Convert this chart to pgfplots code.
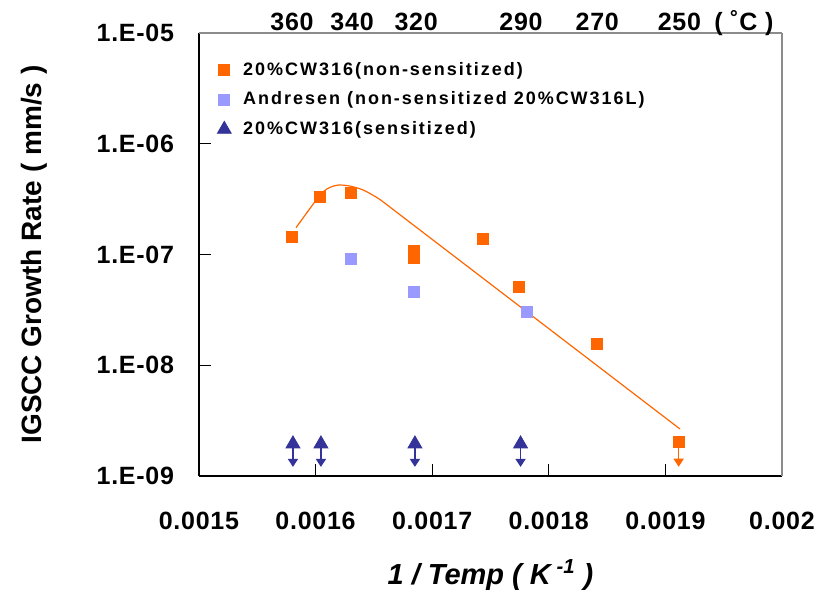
\documentclass[border=0pt]{standalone}
\usepackage{pgfplots}
\pgfplotsset{compat=1.18}
\usepackage{fontspec}
\setmainfont{Liberation Sans}
\usetikzlibrary{arrows.meta}

\definecolor{cworange}{HTML}{FF6600}
\definecolor{andlav}{HTML}{9999FF}
\definecolor{sensblue}{HTML}{333399}

% down arrow drawn under a triangle / under a square
\pgfdeclareplotmark{triarrow}{%
  \pgfsetlinewidth{0.75pt}%
  \pgfsetarrowsend{Triangle[width=5pt,length=4pt]}%
  \pgfpathmoveto{\pgfqpoint{0pt}{-2pt}}%
  \pgfpathlineto{\pgfqpoint{0pt}{-11.5pt}}%
  \pgfusepath{stroke}}
\pgfdeclareplotmark{sqarrow}{%
  \pgfsetlinewidth{0.75pt}%
  \pgfsetarrowsend{Triangle[width=5pt,length=4pt]}%
  \pgfpathmoveto{\pgfqpoint{0pt}{-2.75pt}}%
  \pgfpathlineto{\pgfqpoint{0pt}{-12.5pt}}%
  \pgfusepath{stroke}}

\newcommand{\tickfont}{\bfseries\fontsize{12.5}{14}\selectfont\addfontfeatures{LetterSpace=3}}

\begin{document}
\begin{tikzpicture}
\begin{axis}[
  scale only axis, width=291.5pt, height=221.5pt,
  xmin=0.0015, xmax=0.002, ymin=1e-9, ymax=1e-5, ymode=log,
  scaled x ticks=false,
  axis x line*=bottom, axis y line*=left,
  axis line style={black, line width=1pt},
  tick align=inside, major tick length=6pt,
  tick style={black, line width=0.6pt},
  yminorticks=false,
  xtick={0.0015,0.0016,0.0017,0.0018,0.0019,0.002},
  xticklabels={0.0015,0.0016,0.0017,0.0018,0.0019,0.002},
  ytick={1e-9,1e-8,1e-7,1e-6,1e-5},
  yticklabels={1.E-09,1.E-08,1.E-07,1.E-06,1.E-05},
  ticklabel style={font=\tickfont},
  xticklabel style={anchor=base, yshift=-26.5pt},
  yticklabel style={anchor=east, inner sep=0pt, xshift=-12.25pt},
  xlabel={1 / Temp ( K\textsuperscript{ -1} )},
  xlabel style={at={(axis description cs:0.5,-0.2235)}, anchor=center,
    font=\bfseries\itshape\fontsize{14.5}{16}\selectfont},
  ylabel={IGSCC Growth Rate ( mm/s )},
  ylabel style={at={(axis description cs:-0.283,0.5)}, anchor=center,
    font=\bfseries\fontsize{14}{16}\selectfont},
  legend style={at={(rel axis cs:0.0206,0.953)}, anchor=north west, draw=none, fill=none,
    font=\bfseries\fontsize{9}{11}\selectfont\addfontfeatures{LetterSpace=11},
    row sep=2.75pt, /tikz/every odd column/.append style={column sep=4pt}},
  legend cell align=left,
]
\addplot[only marks, mark=square*, mark size=2.75pt, color=cworange] coordinates {
  (0.0015798,1.45e-7) (0.0016038,3.28e-7) (0.0016304,3.57e-7)
  (0.0016844,1.08e-7) (0.0016844,9.4e-8) (0.0017436,1.39e-7)
  (0.0017744,5.06e-8) (0.0018413,1.55e-8) (0.0019114,2.04e-9)
};
\addlegendentry{20\%CW316(non-sensitized)}
\addplot[only marks, mark=square*, mark size=2.75pt, color=andlav] coordinates {
  (0.0016304,9.17e-8) (0.0016844,4.56e-8) (0.0017813,3.03e-8)
};
\addlegendentry{Andresen (non-sensitized 20\%CW316L)}
\addplot[only marks, mark=triangle*, mark size=4pt, color=sensblue] coordinates {
  (0.0015806,1.95e-9) (0.0016046,1.95e-9) (0.0016852,1.95e-9) (0.0017758,1.95e-9)
};
\addlegendentry{20\%CW316(sensitized)}
\addplot[forget plot, only marks, mark=triarrow, color=sensblue] coordinates {
  (0.0015806,1.95e-9) (0.0016046,1.95e-9) (0.0016852,1.95e-9) (0.0017758,1.95e-9)
};
\addplot[forget plot, only marks, mark=sqarrow, color=cworange] coordinates {
  (0.0019114,2.04e-9)
};
% trend line
\addplot[forget plot, no marks, cworange, line width=0.6pt, smooth] coordinates {
  (0.0015832,1.746e-7) (0.0015995,3.0e-7) (0.0016066,3.69e-7) (0.0016124,4.04e-7)
  (0.0016195,4.24e-7) (0.0016295,4.15e-7) (0.0016409,3.82e-7) (0.0016524,3.28e-7)
  (0.0016581,2.98e-7)
};
\addplot[forget plot, no marks, cworange, line width=0.6pt] coordinates {
  (0.0016581,2.98e-7) (0.0019125,2.66e-9)
};
\coordinate (bbA) at (rel axis cs:-0.3413,-0.298);
\coordinate (bbB) at (rel axis cs:1.0652,1.0745);
\end{axis}
\begin{axis}[
  scale only axis, width=291.5pt, height=221.5pt,
  xmin=0.0015, xmax=0.002, ymin=1e-9, ymax=1e-5, ymode=log,
  scaled x ticks=false,
  axis x line*=top, axis y line*=right,
  axis line style={black!45, line width=1pt},
  ytick=\empty, yminorticks=false,
  xtick={0.0015798,0.0016313,0.0016863,0.0017762,0.0018416,0.0019120,0.0019674},
  xticklabels={360,340,320,290,270,250,( ˚C )},
  major tick length=0pt,
  xticklabel style={font=\tickfont, anchor=base, yshift=1.5pt},
]
\end{axis}
\pgfresetboundingbox
\path (bbA) rectangle (bbB);
\end{tikzpicture}
\end{document}
